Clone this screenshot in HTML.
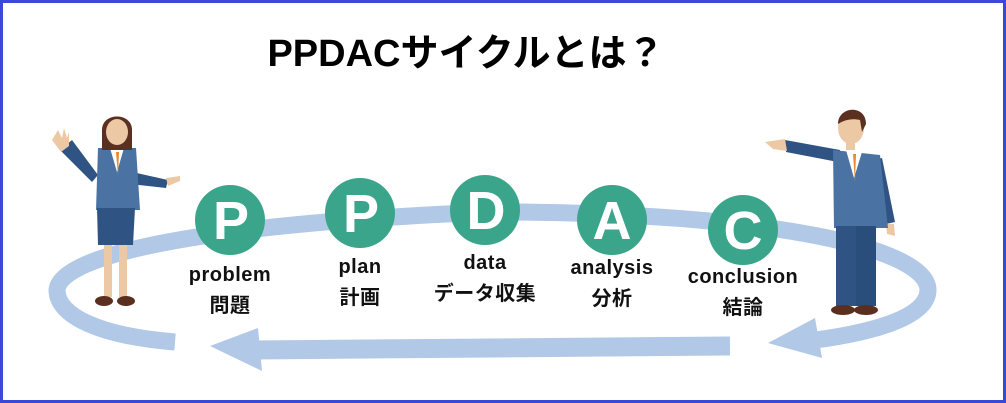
<!DOCTYPE html>
<html><head><meta charset="utf-8"><style>
html,body{margin:0;padding:0;background:#fff;}
.wrap{position:relative;width:1006px;height:403px;box-sizing:border-box;border:3px solid #3a48d8;overflow:hidden;}
svg{position:absolute;left:-3px;top:-3px;}
</style></head><body><div class="wrap">
<svg width="1006" height="403" viewBox="0 0 1006 403" xmlns="http://www.w3.org/2000/svg">
<text x="466" y="66" text-anchor="middle" font-family="Liberation Sans, Noto Sans CJK JP, sans-serif" font-weight="bold" font-size="38" fill="#000">PPDACサイクルとは？</text>
<!-- ring -->
<g fill="none" stroke="#b1c8e6" stroke-width="17" stroke-linecap="butt">
<path d="M175 342 C100 336 57 316 57 290 C60 255 200 224 490 212 C780 212 928 250 928 290 C928 318 870 334 800 342"/>
<path d="M252 350 L730 346" stroke-width="19"/>
</g>
<polygon points="210,346 258,328 262,371" fill="#b1c8e6"/>
<polygon points="768,343 815,318 822,358" fill="#b1c8e6"/>
<!-- woman -->
<g>
<path d="M60 150 L72 140 L98 175 L92 182 Z" fill="#2f5483"/>
<path d="M52 140 l6 -10 l4 8 l2 -10 l3 10 l2 -6 l0 14 l-8 6 Z" fill="#edc8a5"/>
<path d="M132 172 L168 180 L166 188 L130 184 Z" fill="#2f5483"/>
<path d="M166 178 l14 -2 l0 5 l-12 5 Z" fill="#edc8a5"/>
<path d="M98 148 L136 148 L140 210 L96 210 Z" fill="#4a73a3"/>
<path d="M110 148 L124 148 L117 172 Z" fill="#fff"/>
<path d="M116 152 L119 152 L118 176 Z" fill="#e8892d"/>
<path d="M97 208 L135 208 L133 245 L98 245 Z" fill="#2f5483"/>
<rect x="104" y="245" width="8" height="52" fill="#edc8a5"/>
<rect x="119" y="245" width="8" height="52" fill="#edc8a5"/>
<ellipse cx="104" cy="301" rx="9" ry="5" fill="#5b2f1f"/>
<ellipse cx="126" cy="301" rx="9" ry="5" fill="#5b2f1f"/>
<rect x="113" y="140" width="8" height="10" fill="#edc8a5"/>
<path d="M102 130 C102 112 132 112 132 130 L132 150 L102 150 Z" fill="#5a3020"/>
<ellipse cx="117" cy="132" rx="11" ry="13" fill="#edc8a5"/>
</g>
<!-- man -->
<g>
<path d="M785 140 L840 150 L838 162 L786 152 Z" fill="#2f5483"/>
<path d="M765 142 l20 -3 l2 12 l-14 -2 Z" fill="#edc8a5"/>
<path d="M872 160 L882 158 L895 222 L886 224 Z" fill="#2f5483"/>
<path d="M886 224 l8 0 l1 12 l-8 -2 Z" fill="#edc8a5"/>
<path d="M833 150 L880 155 L888 228 L834 228 Z" fill="#4a73a3"/>
<path d="M846 150 L862 152 L854 178 Z" fill="#fff"/>
<path d="M853 154 L856 154 L855 182 Z" fill="#e8892d"/>
<rect x="836" y="226" width="20" height="80" fill="#2f5483"/>
<rect x="856" y="226" width="20" height="80" fill="#2a4e7c"/>
<ellipse cx="843" cy="310" rx="12" ry="5" fill="#5b2f1f"/>
<ellipse cx="866" cy="310" rx="12" ry="5" fill="#5b2f1f"/>
<rect x="846" y="138" width="9" height="12" fill="#edc8a5"/>
<ellipse cx="851" cy="128" rx="13" ry="16" fill="#edc8a5"/>
<path d="M838 124 C838 106 866 104 866 124 L862 132 L860 120 C852 118 844 120 838 124 Z" fill="#5a3020"/>
</g>
<!-- circles -->
<g font-family="Liberation Sans, sans-serif" font-weight="bold" fill="#fff" text-anchor="middle" font-size="54">
<circle cx="230" cy="220" r="35" fill="#3aa58a"/><text x="231" y="239">P</text>
<circle cx="360" cy="213" r="35" fill="#3aa58a"/><text x="361" y="232">P</text>
<circle cx="485" cy="210" r="35" fill="#3aa58a"/><text x="486" y="229">D</text>
<circle cx="612" cy="220" r="35" fill="#3aa58a"/><text x="612" y="239">A</text>
<circle cx="743" cy="230" r="35" fill="#3aa58a"/><text x="743" y="249">C</text>
</g>
<g font-family="Liberation Sans, Noto Sans CJK JP, sans-serif" font-weight="bold" fill="#111" text-anchor="middle" font-size="20" letter-spacing="0.5">
<text x="230" y="281">problem</text><text x="230" y="312">問題</text>
<text x="360" y="273">plan</text><text x="360" y="304">計画</text>
<text x="485" y="269">data</text><text x="485" y="300">データ収集</text>
<text x="612" y="274">analysis</text><text x="612" y="305">分析</text>
<text x="743" y="283">conclusion</text><text x="743" y="314">結論</text>
</g>
</svg>
</div></body></html>
